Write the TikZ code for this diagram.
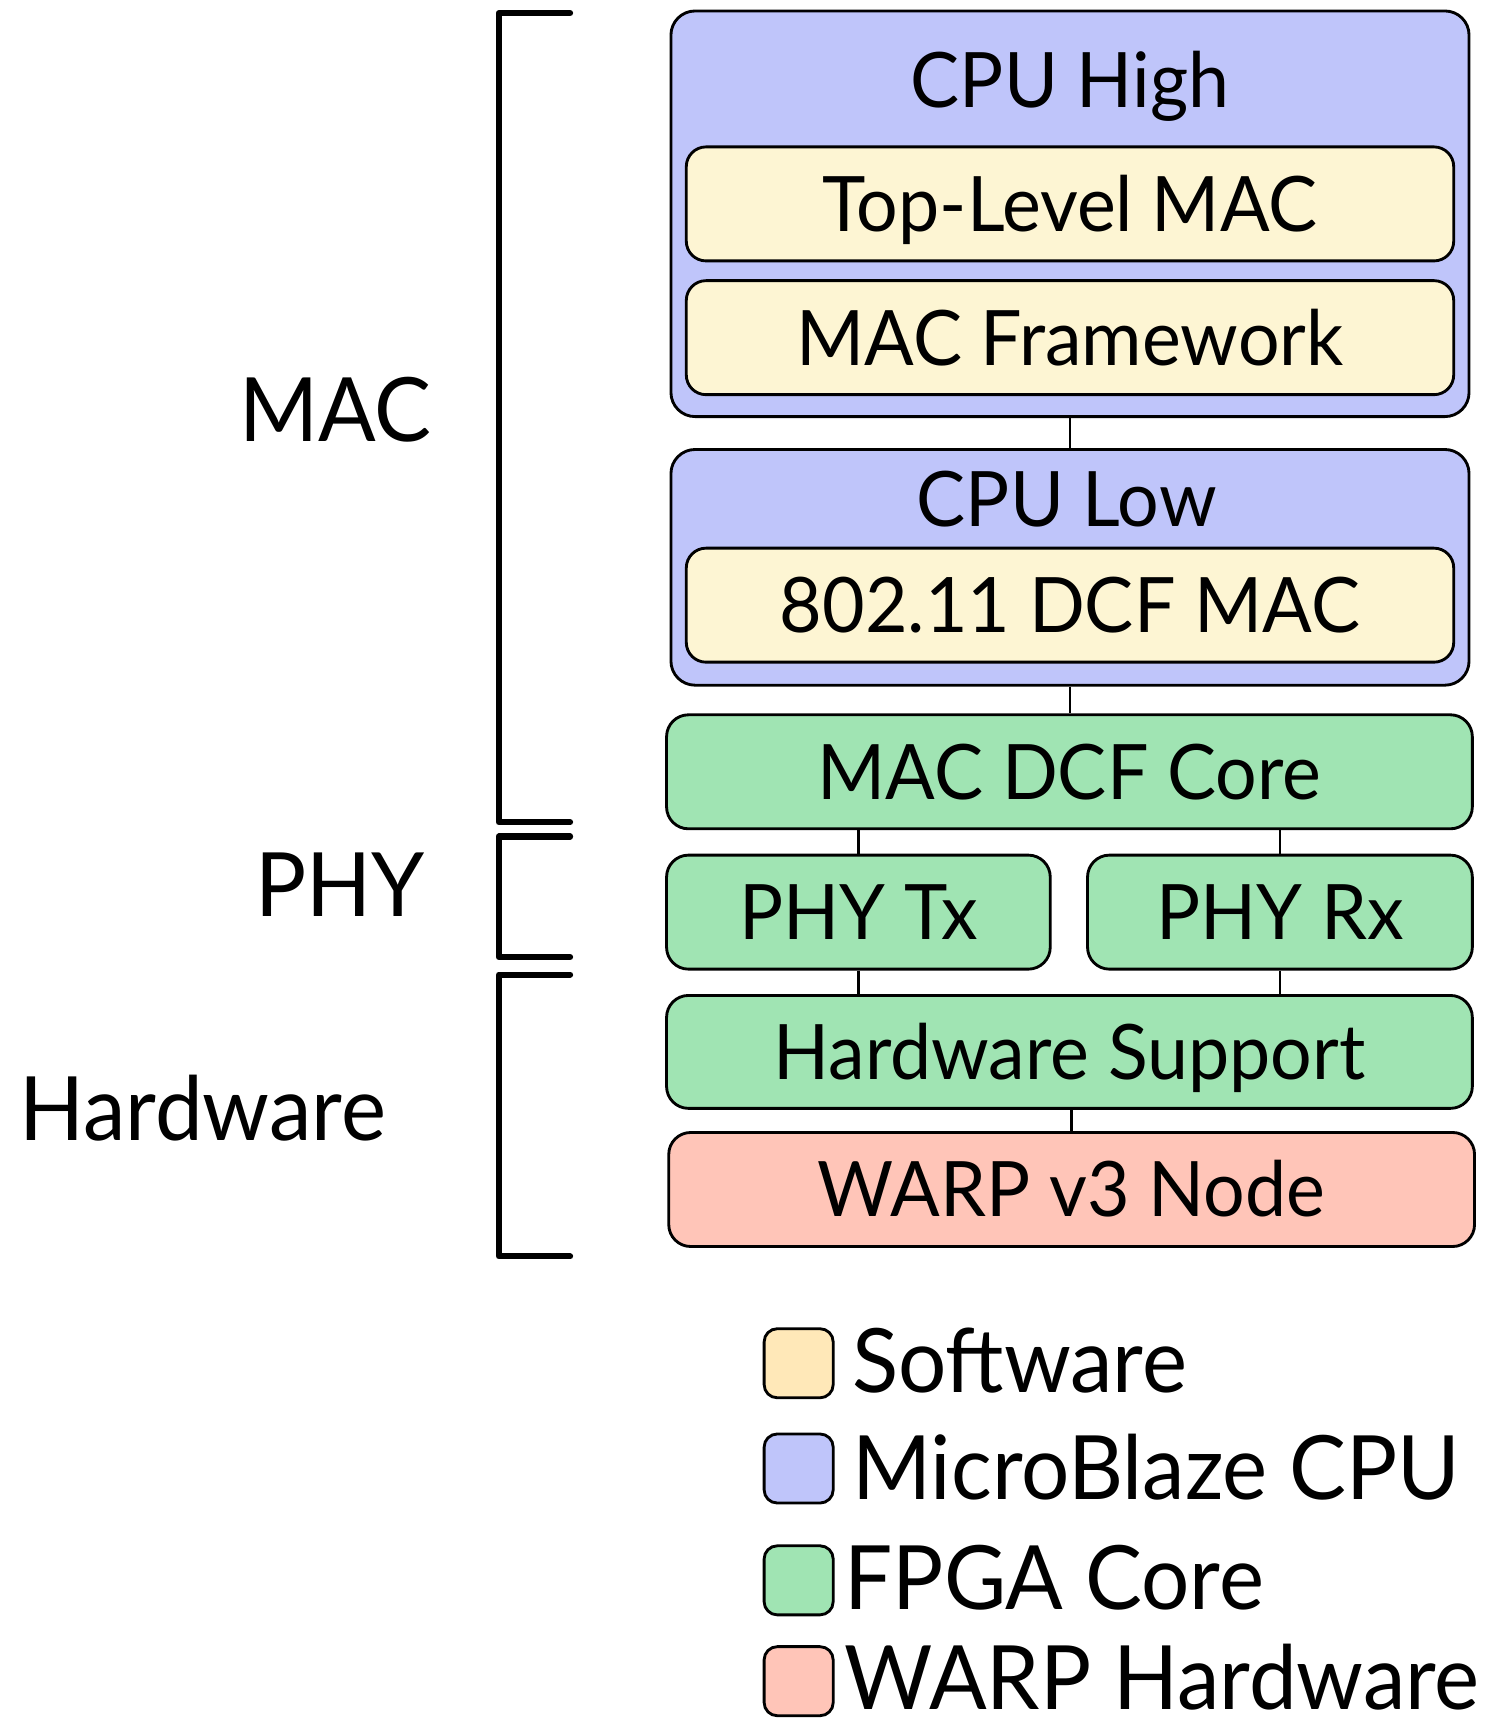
\documentclass[tikz,border=0pt]{standalone}
\usepackage{fontspec}
\setmainfont[FakeStretch=0.96]{Lato}
\definecolor{cpublue}{HTML}{BFC5FA}
\definecolor{swyellow}{HTML}{FDF5D3}
\definecolor{legyellow}{HTML}{FFE8B8}
\definecolor{fpgagreen}{HTML}{A0E4B3}
\definecolor{warpred}{HTML}{FFC5B8}
\tikzset{
  blk/.style={draw=black, line width=1.3pt, inner sep=0pt, text height=25pt, text depth=0pt,
    font=\fontsize{34.9}{40}\selectfont},
  cpubox/.style={blk, fill=cpublue, rounded corners=11pt},
  swbox/.style={blk, fill=swyellow, rounded corners=9pt, minimum width=350pt, minimum height=52pt},
  fpgabox/.style={blk, fill=fpgagreen, rounded corners=10pt, minimum height=52pt},
  warpbox/.style={blk, fill=warpred, rounded corners=10pt, minimum height=52pt},
  titletext/.style={anchor=base, inner sep=0pt, font=\fontsize{34.9}{40}\selectfont},
  conn/.style={draw=black, line width=1.2pt},
  bracket/.style={draw=black, line width=2.8pt, line cap=round, line join=round},
  sidetext/.style={anchor=base, inner sep=0pt, font=\fontsize{40.5}{46}\selectfont},
  legbox/.style={draw=black, line width=1.3pt, rounded corners=6pt, minimum size=31.5pt, inner sep=0pt},
  legtext/.style={anchor=base west, inner sep=0pt, font=\fontsize{40.5}{46}\selectfont},
}
\begin{document}
\begin{tikzpicture}[x=0.5pt,y=-0.5pt]
\useasboundingbox (0,0) rectangle (1375,1568);
% CPU High
\node[cpubox, minimum width=364pt, minimum height=185pt] (cpuhigh) at (976,195) {};
\node[titletext] (cpuhightitle) at (976,98) {CPU High};
\node[swbox] (toplevel) at (976,186) {Top-Level MAC};
\node[swbox] (macfw) at (976,308) {MAC Framework};
% CPU Low
\node[cpubox, minimum width=364pt, minimum height=107.5pt] (cpulow) at (976,517.5) {};
\node[titletext] (cpulowtitle) at (973,480) {CPU Low};
\node[swbox] (dcfmac) at (976,552) {802.11 DCF MAC};
% FPGA cores
\node[fpgabox, minimum width=367.5pt] (core) at (975.5,704) {MAC DCF Core};
\node[fpgabox, minimum width=175pt] (phytx) at (783,832) {PHY Tx};
\node[fpgabox, minimum width=175.5pt] (phyrx) at (1167.5,832) {PHY Rx};
\node[fpgabox, minimum width=367.5pt, minimum height=51.5pt] (hws) at (975.5,959.5) {Hardware Support};
\node[warpbox, minimum width=367.5pt] (warpnode) at (977.5,1085) {WARP v3 Node};
% connectors
\draw[conn] (cpuhigh.south) -- (cpulow.north);
\draw[conn] (cpulow.south) -- (cpulow.south |- core.north);
\draw[conn] (phytx.north) -- (phytx.north |- core.south);
\draw[conn] (phyrx.north) -- (phyrx.north |- core.south);
\draw[conn] (phytx.south) -- (phytx.south |- hws.north);
\draw[conn] (phyrx.south) -- (phyrx.south |- hws.north);
\draw[conn] (warpnode.north |- hws.south) -- (warpnode.north);
% brackets
\draw[bracket] (520,12) -- (455,12) -- (455,750) -- (520,750);
\draw[bracket] (520,763) -- (455,763) -- (455,873) -- (520,873);
\draw[bracket] (520,889) -- (455,889) -- (455,1146) -- (520,1146);
\node[sidetext] (maclabel) at (306,403) {MAC};
\node[sidetext] (phylabel) at (310,836) {PHY};
\node[sidetext] (hwlabel) at (185,1040) {Hardware};
% legend
\node[legbox, fill=legyellow] (legsw) at (728.5,1243.5) {};
\node[legbox, fill=cpublue] (legcpu) at (728.5,1339.5) {};
\node[legbox, fill=fpgagreen] (legfpga) at (728.5,1441.5) {};
\node[legbox, fill=warpred] (legwarp) at (728.5,1533.5) {};
\node[legtext] (legswtext) at (777,1270) {Software};
\node[legtext] (legcputext) at (777,1368) {MicroBlaze CPU};
\node[legtext] (legfpgatext) at (770,1468) {FPGA Core};
\node[legtext] (legwarptext) at (770,1559) {WARP Hardware};
\end{tikzpicture}
\end{document}
